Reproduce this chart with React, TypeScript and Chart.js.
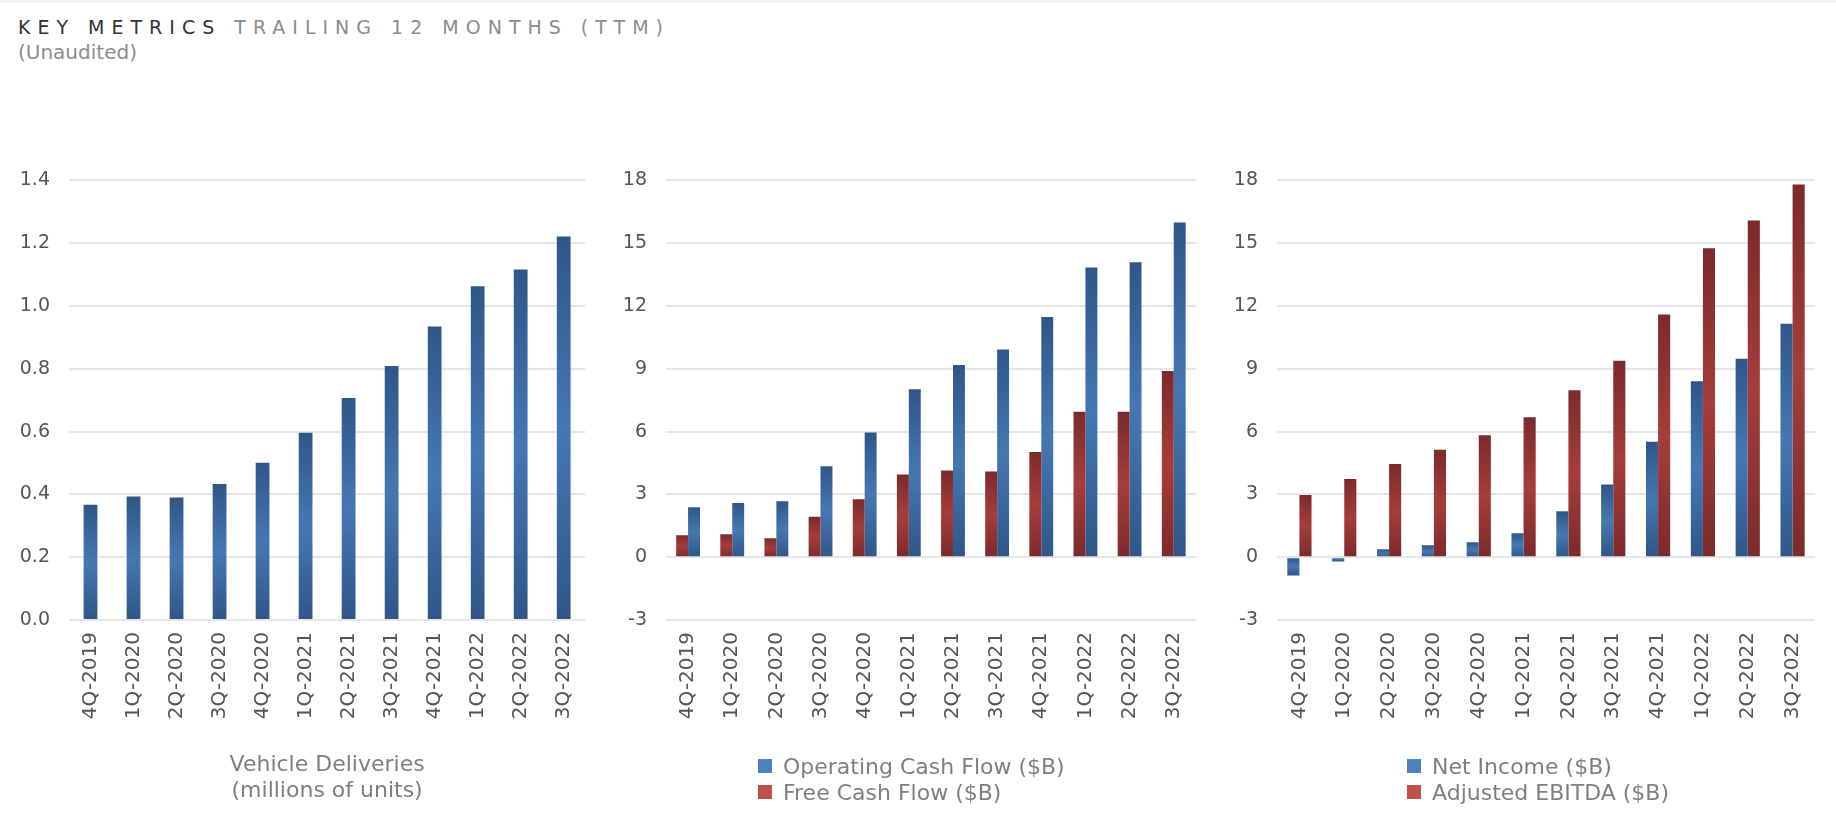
import { useEffect, useRef } from 'react';
import { Chart, registerables } from 'chart.js';

Chart.register(...registerables);

const FONT = "'DejaVu Sans', 'Noto Sans', sans-serif";
Chart.defaults.font.family = FONT;

const quarters = [
  '4Q-2019', '1Q-2020', '2Q-2020', '3Q-2020', '4Q-2020', '1Q-2021',
  '2Q-2021', '3Q-2021', '4Q-2021', '1Q-2022', '2Q-2022', '3Q-2022',
];
// millions of units, TTM
const deliveries = [0.367, 0.393, 0.39, 0.433, 0.501, 0.596, 0.707, 0.809, 0.935, 1.063, 1.116, 1.221];
// $B, TTM
const operatingCashFlow = [2.39, 2.59, 2.67, 4.34, 5.96, 8.02, 9.18, 9.92, 11.48, 13.84, 14.09, 15.99];
const freeCashFlow = [1.05, 1.1, 0.91, 1.93, 2.77, 3.95, 4.14, 4.09, 5.02, 6.95, 6.95, 8.9];
const netIncome = [-0.88, -0.2, 0.38, 0.57, 0.72, 1.15, 2.19, 3.47, 5.52, 8.41, 9.48, 11.15];
const adjustedEbitda = [2.97, 3.74, 4.45, 5.13, 5.82, 6.68, 7.97, 9.39, 11.59, 14.76, 16.08, 17.81];

const deliveryAxis = [0, 1.4, 0.2];
const dollarAxis = [-3, 18, 3];

const BLUE = { flat: '#4F81BD', dark: '#2f5687', light: '#4677b3' };
const RED = { flat: '#C0504D', dark: '#7b2a2b', light: '#a53d3c' };

function barFill(c: typeof BLUE) {
  return (ctx: any) => {
    const chart = ctx.chart;
    if (!chart.chartArea || ctx.raw == null) return c.light;
    const y = chart.scales.y;
    const a = y.getPixelForValue(ctx.raw);
    const b = y.getPixelForValue(0);
    if (Math.abs(a - b) < 1) return c.light;
    const g = chart.ctx.createLinearGradient(0, Math.min(a, b), 0, Math.max(a, b));
    g.addColorStop(0, c.dark);
    g.addColorStop(0.5, c.light);
    g.addColorStop(1, c.dark);
    return g;
  };
}

interface PanelProps {
  left: number;
  width: number;
  yWidth: number;
  padRight: number;
  axis: number[];
  decimals: number;
  series: { label: string; data: number[]; color: typeof BLUE }[];
  barPercentage: number;
  categoryPercentage: number;
  xTitle?: string[];
}

const TOP = 150;
const HEIGHT = 677;

function BarPanel(p: PanelProps) {
  const canvasRef = useRef<HTMLCanvasElement>(null);
  const chartRef = useRef<Chart | null>(null);

  useEffect(() => {
    if (!canvasRef.current) return;
    chartRef.current?.destroy();

    chartRef.current = new Chart(canvasRef.current, {
      type: 'bar',
      data: {
        labels: quarters,
        datasets: p.series.map((s) => ({
          label: s.label,
          data: s.data,
          backgroundColor: barFill(s.color),
          borderWidth: 0,
          barPercentage: p.barPercentage,
          categoryPercentage: p.categoryPercentage,
        })),
      },
      options: {
        responsive: false,
        animation: false,
        layout: { padding: { top: 25, bottom: 23, left: 0, right: p.padRight } },
        plugins: { legend: { display: false }, tooltip: { enabled: false } },
        scales: {
          x: {
            grid: { display: false, drawTicks: false },
            border: { display: false },
            ticks: {
              autoSkip: false,
              minRotation: 90,
              maxRotation: 90,
              padding: 12,
              color: '#555',
              font: { size: 20 },
            },
            title: {
              display: !!p.xTitle,
              text: p.xTitle ?? '',
              color: '#7f7f7f',
              font: { size: 22, lineHeight: 1.17 },
              padding: { top: 0, bottom: 0 },
            },
            afterFit: (s: any) => {
              s.height = 184;
            },
          },
          y: {
            min: p.axis[0],
            max: p.axis[1],
            grid: { color: '#e6e6e6', lineWidth: 2, drawTicks: false },
            border: { display: false },
            ticks: {
              stepSize: p.axis[2],
              padding: 19,
              color: '#555',
              font: { size: 19 },
              callback: (v: any) => Number(v).toFixed(p.decimals),
            },
            afterFit: (s: any) => {
              s.width = p.yWidth;
            },
          },
        },
      },
    });

    return () => {
      chartRef.current?.destroy();
      chartRef.current = null;
    };
  }, []);

  return (
    <canvas
      ref={canvasRef}
      width={p.width}
      height={HEIGHT}
      style={{ position: 'absolute', left: p.left, top: TOP, width: p.width, height: HEIGHT }}
    />
  );
}

function Legend({ left, items }: { left: number; items: { label: string; color: string }[] }) {
  return (
    <div style={{ position: 'absolute', left, top: 753 }}>
      {items.map((it) => (
        <div key={it.label} style={{ display: 'flex', alignItems: 'center', height: 26 }}>
          <span style={{ width: 14, height: 14, background: it.color, marginRight: 11, display: 'inline-block' }} />
          <span style={{ fontSize: 22, color: '#7f7f7f', whiteSpace: 'nowrap' }}>{it.label}</span>
        </div>
      ))}
    </div>
  );
}

export default function App() {
  return (
    <div
      style={{
        position: 'absolute',
        left: 0,
        top: 0,
        width: 1836,
        height: 827,
        background: '#fff',
        fontFamily: FONT,
      }}
    >
      <div style={{ position: 'absolute', left: 0, top: 0, width: 1836, height: 3, background: '#f3f3f3' }} />
      <div style={{ position: 'absolute', left: 18, top: 16, fontSize: 19, lineHeight: '22px', letterSpacing: 7, whiteSpace: 'nowrap' }}>
        <span style={{ color: '#333' }}>KEY METRICS </span>
        <span style={{ color: '#8c8c8c' }}>TRAILING 12 MONTHS (TTM)</span>
      </div>
      <div style={{ position: 'absolute', left: 18, top: 41, fontSize: 20, lineHeight: '23px', color: '#8c8c8c' }}>
        (Unaudited)
      </div>

      <BarPanel
        left={0}
        width={600}
        yWidth={69}
        padRight={7}
        axis={deliveryAxis}
        decimals={1}
        series={[{ label: 'Vehicle Deliveries', data: deliveries, color: BLUE }]}
        barPercentage={0.32}
        categoryPercentage={1}
        xTitle={['Vehicle Deliveries', '(millions of units)']}
      />
      <BarPanel
        left={600}
        width={610}
        yWidth={66}
        padRight={6}
        axis={dollarAxis}
        decimals={0}
        series={[
          { label: 'Free Cash Flow ($B)', data: freeCashFlow, color: RED },
          { label: 'Operating Cash Flow ($B)', data: operatingCashFlow, color: BLUE },
        ]}
        barPercentage={1}
        categoryPercentage={0.54}
      />
      <BarPanel
        left={1210}
        width={620}
        yWidth={67}
        padRight={15}
        axis={dollarAxis}
        decimals={0}
        series={[
          { label: 'Net Income ($B)', data: netIncome, color: BLUE },
          { label: 'Adjusted EBITDA ($B)', data: adjustedEbitda, color: RED },
        ]}
        barPercentage={1}
        categoryPercentage={0.54}
      />

      <Legend
        left={758}
        items={[
          { label: 'Operating Cash Flow ($B)', color: BLUE.flat },
          { label: 'Free Cash Flow ($B)', color: RED.flat },
        ]}
      />
      <Legend
        left={1407}
        items={[
          { label: 'Net Income ($B)', color: BLUE.flat },
          { label: 'Adjusted EBITDA ($B)', color: RED.flat },
        ]}
      />
    </div>
  );
}
